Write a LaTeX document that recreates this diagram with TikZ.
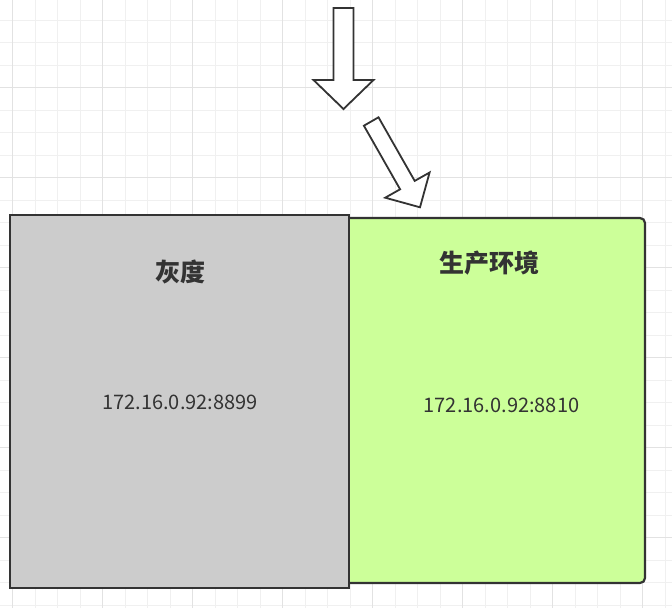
\documentclass[tikz,border=0pt]{standalone}
\usepackage{fontspec}
\setmainfont{Noto Sans CJK SC}
\definecolor{gridminor}{HTML}{F0F0F0}
\definecolor{gridmajor}{HTML}{E2E2E2}
\definecolor{edgegray}{HTML}{333333}
\definecolor{grayenv}{HTML}{CCCCCC}
\definecolor{prodenv}{HTML}{CCFF99}

\begin{document}
\begin{tikzpicture}[
        x=1pt, y=-1pt,
        minorline/.style={gridminor, line width=1pt},
        majorline/.style={gridmajor, line width=1pt},
        envbox/.style={draw=edgegray, line width=2.2pt, inner sep=0pt},
        blockarrow/.style={draw=edgegray, fill=white, line width=1.8pt, line join=miter},
        envtitle/.style={font={\fontsize{25}{25}\selectfont\bfseries}, text=edgegray},
        envaddr/.style={font={\fontsize{20}{20}\selectfont}, text=edgegray}
    ]
    \useasboundingbox (0,0) rectangle (672,608);
    \fill[white] (0,0) rectangle (672,608);

    %grid
    \foreach \i in {0,...,29}
        \draw[minorline] ({12.7+22.5*\i},0) -- ({12.7+22.5*\i},608);
    \foreach \j in {0,...,26}
        \draw[minorline] (0,{20+22.5*\j}) -- (672,{20+22.5*\j});
    \foreach \i in {0,...,7}
        \draw[majorline] ({12.7+90*\i},0) -- ({12.7+90*\i},608);
    \foreach \j in {0,...,6}
        \draw[majorline] (0,{87.7+90*\j}) -- (672,{87.7+90*\j});

    %boxes
    \node[envbox, fill=prodenv, rounded corners=5pt,
        minimum width=300pt, minimum height=365pt] (prod) at (495,400.5) {};
    \node[envbox, fill=grayenv,
        minimum width=339pt, minimum height=373pt] (gray) at (179.5,401.5) {};

    \node[envtitle] (grayname) at (180.5,271.5) {灰度};
    \node[envaddr] (grayaddr) at (180,402.5) {172.16.0.92:8899};
    \node[envtitle] (prodname) at (489,263) {生产环境};
    \node[envaddr] (prodaddr) at (501.5,405.7) {172.16.0.92:8810};

    %arrows
    \draw[blockarrow] (333.5,8) -- (353.5,8) -- (353.5,80) -- (373.5,80)
        -- (343.5,109) -- (313.5,80) -- (333.5,80) -- cycle;
    \draw[blockarrow] (363.9,125.7) -- (378.5,117.3) -- (414.7,180.9)
        -- (429.6,172.5) -- (420,207.3) -- (385.2,197.7) -- (400.1,189.3) -- cycle;
\end{tikzpicture}
\end{document}
